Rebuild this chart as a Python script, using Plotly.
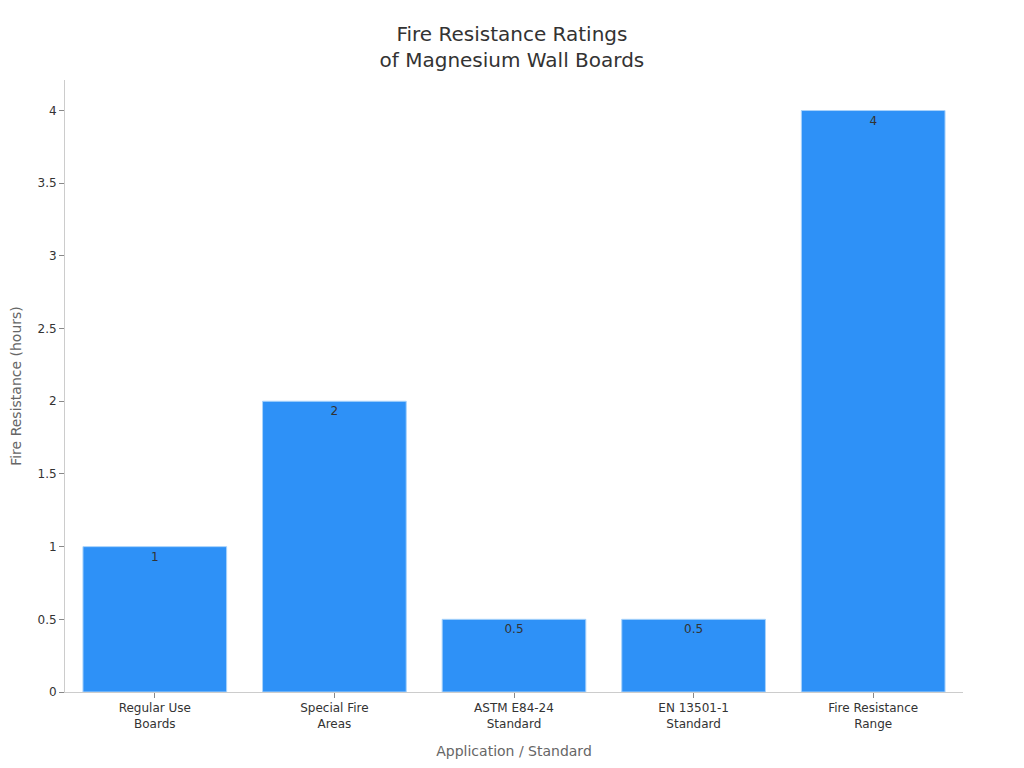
import plotly.graph_objects as go

categories = ['Regular Use<br>Boards', 'Special Fire<br>Areas', 'ASTM E84-24<br>Standard',
              'EN 13501-1<br>Standard', 'Fire Resistance<br>Range']
hours = [1, 2, 0.5, 0.5, 4]
labels = ['1', '2', '0.5', '0.5', '4']

fig = go.Figure()
fig.add_trace(go.Bar(
    x=categories,
    y=hours,
    text=labels,
    textposition='inside',
    insidetextanchor='end',
    textfont=dict(color='#333333', size=12),
    marker=dict(color='#2E91F7', line=dict(color='#A9D3FB', width=1)),
    width=0.8,
    showlegend=False,
))

# page has an 8px body margin, so the figure is sized/offset to land on the same pixels
fig.update_layout(
    width=1016, height=760,
    title=dict(text='Fire Resistance Ratings<br>of Magnesium Wall Boards',
               x=0.496, xanchor='center', y=0.957, yanchor='top',
               font=dict(size=20, color='#333333')),
    font=dict(family='DejaVu Sans', size=12, color='#333333'),
    paper_bgcolor='white', plot_bgcolor='white',
    margin=dict(l=57, r=61, t=72, b=76),
    xaxis=dict(
        title=dict(text='Application / Standard', font=dict(size=14, color='#666666'), standoff=16),
        showline=True, linecolor='#CCCCCC', linewidth=1,
        ticks='outside', tickcolor='#888888', ticklen=5,
        showgrid=False,
    ),
    yaxis=dict(
        title=dict(text='Fire Resistance (hours)', font=dict(size=14, color='#666666'), standoff=20),
        automargin=False,
        range=[0, 4.21],
        dtick=0.5,
        showline=True, linecolor='#CCCCCC', linewidth=1,
        ticks='outside', tickcolor='#888888', ticklen=5,
        showgrid=False, zeroline=False,
    ),
)

fig.write_html("out.html")
